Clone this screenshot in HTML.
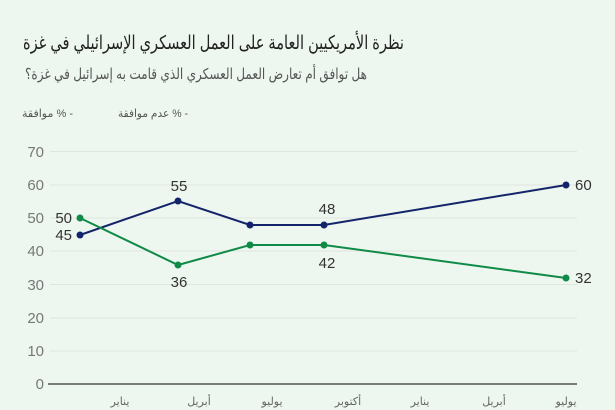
<!DOCTYPE html>
<html><head><meta charset="utf-8"><style>
body{margin:0;background:#eef7ef;}
svg{display:block;font-family:"Liberation Sans","DejaVu Sans",sans-serif;}
</style></head><body>
<svg width="615" height="410" viewBox="0 0 615 410">
<rect width="615" height="410" fill="#eef7ef"/>
<text x="404" y="49" font-size="19" fill="#222" text-anchor="start" direction="rtl" textLength="381" lengthAdjust="spacingAndGlyphs">نظرة الأمريكيين العامة على العمل العسكري الإسرائيلي في غزة</text>
<text x="367" y="79" font-size="15" fill="#555" text-anchor="start" direction="rtl" textLength="342" lengthAdjust="spacingAndGlyphs">هل توافق أم تعارض العمل العسكري الذي قامت به إسرائيل في غزة؟</text>
<text x="73" y="117" font-size="11" fill="#555" text-anchor="start" direction="rtl" textLength="51" lengthAdjust="spacingAndGlyphs">- % موافقة</text>
<text x="188" y="117" font-size="11" fill="#555" text-anchor="start" direction="rtl" textLength="70" lengthAdjust="spacingAndGlyphs">- % عدم موافقة</text>
<g stroke="#dfe5df" stroke-width="1">
<line x1="50" x2="577" y1="151.5" y2="151.5"/><line x1="50" x2="577" y1="185" y2="185"/>
<line x1="50" x2="577" y1="218" y2="218"/><line x1="50" x2="577" y1="251" y2="251"/>
<line x1="50" x2="577" y1="284.5" y2="284.5"/><line x1="50" x2="577" y1="318" y2="318"/>
<line x1="50" x2="577" y1="351" y2="351"/>
</g>
<line x1="48" x2="577" y1="384" y2="384" stroke="#555" stroke-width="1.5"/>
<g font-size="15" fill="#777" text-anchor="end">
<text x="44" y="157">70</text><text x="44" y="190">60</text><text x="44" y="223">50</text>
<text x="44" y="256">40</text><text x="44" y="290">30</text><text x="44" y="323">20</text>
<text x="44" y="356">10</text><text x="44" y="389">0</text>
</g>
<g font-size="11" fill="#666" text-anchor="middle">
<text x="120" y="405">يناير</text><text x="199" y="405">أبريل</text><text x="272" y="405">يوليو</text>
<text x="348" y="405">أكتوبر</text><text x="420" y="405">يناير</text><text x="494" y="405">أبريل</text><text x="566" y="405">يوليو</text>
</g>
<polyline points="80,235 178,201 250,225 324,225 566,185" fill="none" stroke="#13246b" stroke-width="2"/>
<polyline points="80,218 178,265 250,245 324,245 566,278" fill="none" stroke="#108a47" stroke-width="2"/>
<g fill="#13246b"><circle cx="80" cy="235" r="3.5"/><circle cx="178" cy="201" r="3.5"/><circle cx="250" cy="225" r="3.5"/><circle cx="324" cy="225" r="3.5"/><circle cx="566" cy="185" r="3.5"/></g>
<g fill="#108a47"><circle cx="80" cy="218" r="3.5"/><circle cx="178" cy="265" r="3.5"/><circle cx="250" cy="245" r="3.5"/><circle cx="324" cy="245" r="3.5"/><circle cx="566" cy="278" r="3.5"/></g>
<g font-size="15" fill="#333">
<text x="72" y="240" text-anchor="end">45</text><text x="72" y="223" text-anchor="end">50</text>
<text x="179" y="191" text-anchor="middle">55</text><text x="179" y="287" text-anchor="middle">36</text>
<text x="327" y="214" text-anchor="middle">48</text><text x="327" y="268" text-anchor="middle">42</text>
<text x="575" y="190">60</text><text x="575" y="283">32</text>
</g>
</svg>
</body></html>
